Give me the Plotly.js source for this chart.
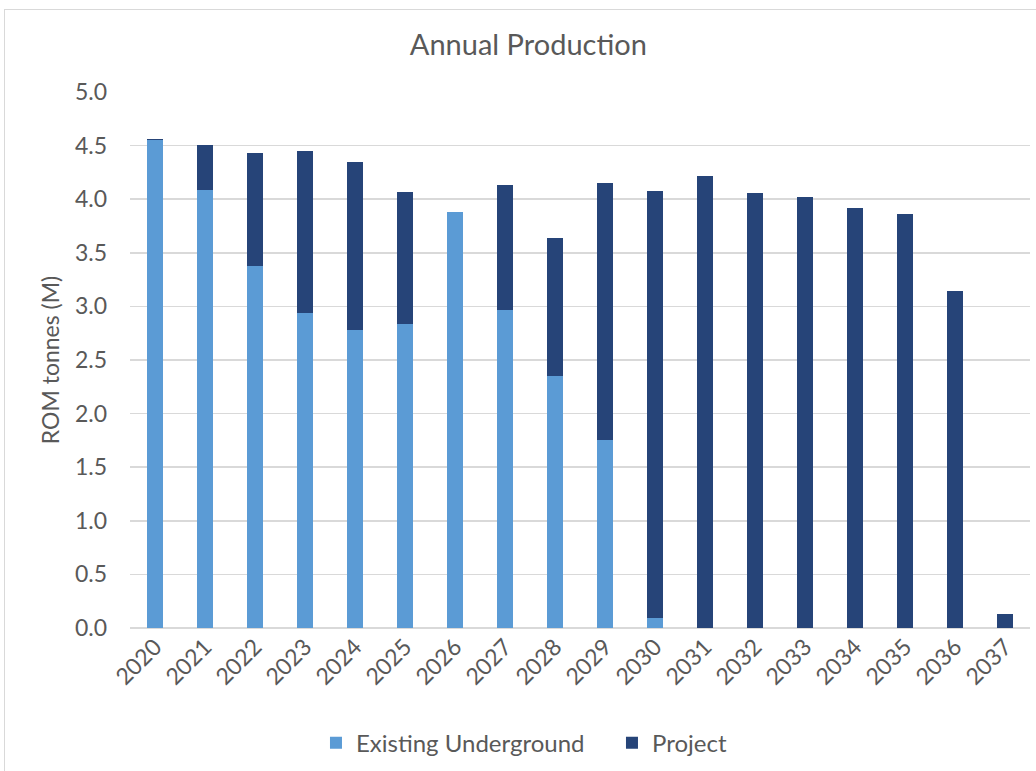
<!DOCTYPE html>
<html>
<head>
<meta charset="utf-8">
<script src="https://cdn.plot.ly/plotly-3.0.1.min.js"></script>
<style>
  html, body { margin: 0; padding: 0; background: #fff; overflow: hidden; }
  #frame { position: absolute; left: 4px; top: 9px; width: 1100px; height: 800px; border: 1px solid #d9d9d9; }
  #chart { position: absolute; left: 0; top: 0; width: 1036px; height: 771px; }
</style>
</head>
<body>
<div id="frame"></div>
<div id="chart"></div>
<script>
const years = ['2020','2021','2022','2023','2024','2025','2026','2027','2028','2029','2030','2031','2032','2033','2034','2035','2036','2037'];
const existingUnderground = [4.55, 4.09, 3.38, 2.94, 2.78, 2.84, 3.88, 2.97, 2.35, 1.75, 0.09, 0, 0, 0, 0, 0, 0, 0];
const project = [0.01, 0.42, 1.05, 1.51, 1.57, 1.23, 0, 1.16, 1.29, 2.40, 3.99, 4.22, 4.06, 4.02, 3.92, 3.86, 3.14, 0.13];
const yTicks = [0, 0.5, 1, 1.5, 2, 2.5, 3, 3.5, 4, 4.5, 5];

const font = 'Lato, Open Sans, sans-serif';
const grey = '#595959';

const traces = [
  { type: 'bar', name: 'Existing Underground', x: years, y: existingUnderground,
    marker: { color: '#5B9BD5', line: { width: 0 } }, hoverinfo: 'x+y+name' },
  { type: 'bar', name: 'Project', x: years, y: project,
    marker: { color: '#264478', line: { width: 0 } }, hoverinfo: 'x+y+name' }
];

const layout = {
  width: 1036, height: 771,
  paper_bgcolor: 'rgba(0,0,0,0)', plot_bgcolor: 'rgba(0,0,0,0)',
  barmode: 'stack', bargap: 0.68,
  margin: { l: 130, r: 6, t: 92, b: 143 },
  title: { text: 'Annual Production', font: { family: font, size: 29, color: grey },
           x: 0.51, xref: 'container', xanchor: 'center', y: 0.942, yref: 'container', yanchor: 'middle' },
  font: { family: font, color: grey },
  xaxis: {
    type: 'category', tickangle: -45, tickfont: { family: font, size: 23, color: grey },
    showgrid: false, showline: false, ticks: '', zeroline: false
  },
  yaxis: {
    range: [0, 5], tickvals: yTicks, tickformat: '.1f',
    tickfont: { family: font, size: 23, color: grey },
    showgrid: true, gridcolor: '#d9d9d9', gridwidth: 1.5,
    zeroline: true, zerolinecolor: '#d9d9d9', zerolinewidth: 1.5,
    showline: false, ticks: '', ticklabelstandoff: 22,
    title: { text: 'ROM tonnes (M)', font: { family: font, size: 23, color: grey }, standoff: 8 }
  },
  showlegend: true,
  legend: {
    orientation: 'h', xref: 'container', yref: 'container',
    x: 0.305, xanchor: 'left', y: 0.036, yanchor: 'middle',
    font: { family: font, size: 24, color: grey }, itemwidth: 30, traceorder: 'normal',
    entrywidth: 251, entrywidthmode: 'pixels'
  }
};

Plotly.newPlot('chart', traces, layout, { displayModeBar: false, staticPlot: true });
</script>
</body>
</html>
